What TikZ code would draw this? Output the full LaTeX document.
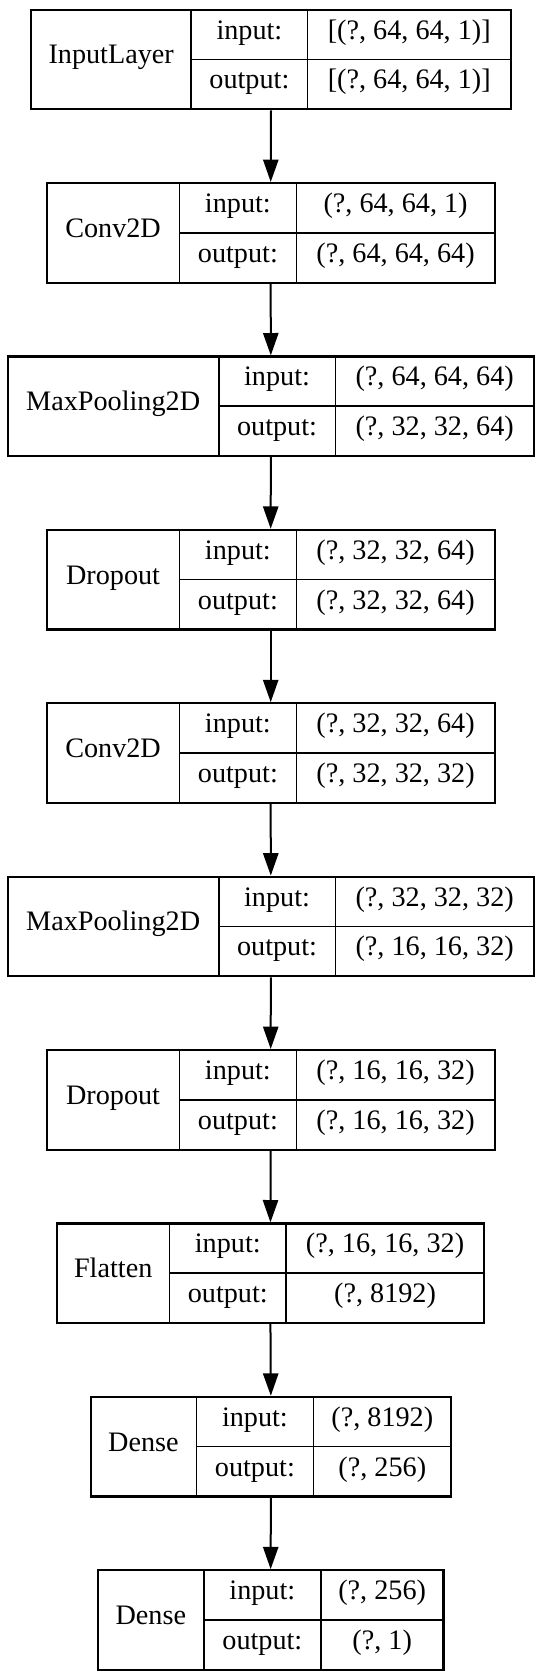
\documentclass[tikz,border=0pt]{standalone}
\usepackage{fontspec}
\setmainfont{Liberation Serif}
\usetikzlibrary{arrows.meta}

\tikzset{
  layerbox/.style={draw, line width=1.1pt, inner sep=0pt},
  cell/.style={draw, line width=0.8pt, inner sep=0pt, text height=0.7em, text depth=0.25em,
    font=\fontsize{14.1}{16}\selectfont},
  flow/.style={-{Triangle[width=7.6pt,length=11.2pt]}, line width=1pt}
}

\begin{document}
\begin{tikzpicture}[x=0.5pt, y=-0.5pt]
\useasboundingbox (0,0) rectangle (542,1671);
% one record per layer: index/name/left/split 1/split 2/right/input/output
\foreach \i/\name/\xl/\xa/\xb/\xr/\inp/\outp in {
  0/InputLayer/31.1/191.2/307.6/510.9/{[(?, 64, 64, 1)]}/{[(?, 64, 64, 1)]},
  1/Conv2D/46.7/179.4/296.4/494.7/{(?, 64, 64, 1)}/{(?, 64, 64, 64)},
  2/MaxPooling2D/7.6/218.8/335.3/534/{(?, 64, 64, 64)}/{(?, 32, 32, 64)},
  3/Dropout/46.7/179.4/296.4/494.7/{(?, 32, 32, 64)}/{(?, 32, 32, 64)},
  4/Conv2D/46.7/179.4/296.4/494.7/{(?, 32, 32, 64)}/{(?, 32, 32, 32)},
  5/MaxPooling2D/7.6/218.8/335.3/534/{(?, 32, 32, 32)}/{(?, 16, 16, 32)},
  6/Dropout/46.7/179.4/296.4/494.7/{(?, 16, 16, 32)}/{(?, 16, 16, 32)},
  7/Flatten/57/169.4/286.2/483.9/{(?, 16, 16, 32)}/{(?, 8192)},
  8/Dense/90.6/196.3/313.5/451.1/{(?, 8192)}/{(?, 256)},
  9/Dense/97.8/203.9/320.8/443.5/{(?, 256)}/{(?, 1)}}{
\pgfmathsetmacro{\ytop}{9.7+173.4*\i}
\node[layerbox, minimum width={(\xr-\xl)*0.5pt}, minimum height=49.75pt] (box\i) at ({(\xl+\xr)/2}, \ytop+49.75) {};
\node[cell, minimum width={(\xa-\xl)*0.5pt}, minimum height=49.75pt] (name\i) at ({(\xl+\xa)/2}, \ytop+49.75) {\name};
\node[cell, minimum width={(\xb-\xa)*0.5pt}, minimum height=24.875pt] (inlbl\i) at ({(\xa+\xb)/2}, \ytop+24.875) {input:};
\node[cell, minimum width={(\xb-\xa)*0.5pt}, minimum height=24.875pt] (outlbl\i) at ({(\xa+\xb)/2}, \ytop+74.625) {output:};
\node[cell, minimum width={(\xr-\xb)*0.5pt}, minimum height=24.875pt] (inval\i) at ({(\xb+\xr)/2}, \ytop+24.875) {\inp};
\node[cell, minimum width={(\xr-\xb)*0.5pt}, minimum height=24.875pt] (outval\i) at ({(\xb+\xr)/2}, \ytop+74.625) {\outp};
}
\foreach \i in {0,...,8}{
\pgfmathtruncatemacro{\j}{\i+1}
\draw[flow] (box\i.south) -- (box\j.north);
}
\end{tikzpicture}
\end{document}
